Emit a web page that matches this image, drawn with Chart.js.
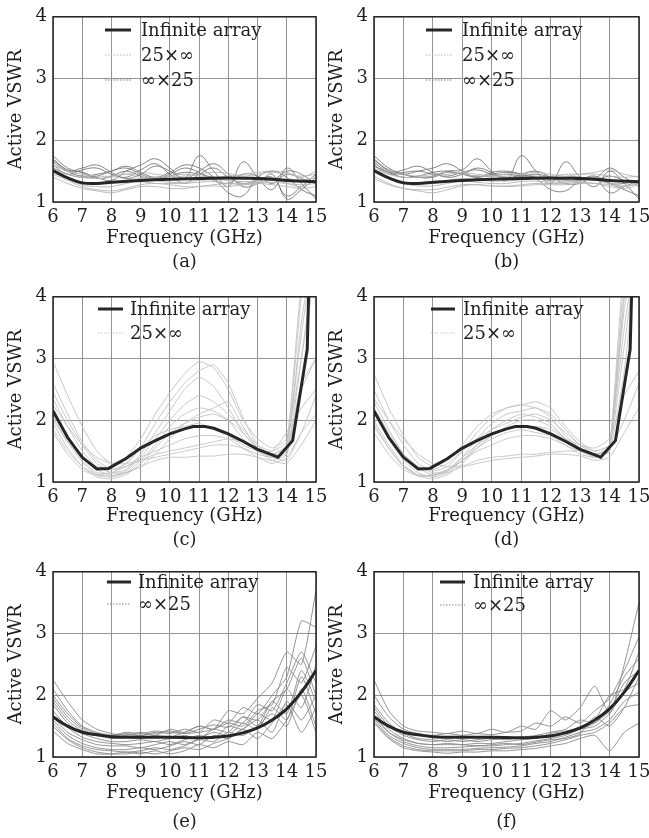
<!DOCTYPE html>
<html>
<head>
<meta charset="utf-8">
<script src="https://cdn.jsdelivr.net/npm/chart.js@4.4.1/dist/chart.umd.min.js"></script>
<style>
  body { margin: 0; background: #fff; width: 649px; height: 838px; position: relative; overflow: hidden; }
  canvas { position: absolute; }
</style>
</head>
<body>
<script>
// frequency samples (GHz) used by the finite-array curves
const freq = [6, 6.5, 7, 7.5, 8, 8.5, 9, 9.5, 10, 10.5, 11, 11.5, 12, 12.5, 13, 13.5, 14, 14.5, 15];
const xTicks = [6, 7, 8, 9, 10, 11, 12, 13, 14, 15];
const yTicks = [1, 2, 3, 4];

// infinite array curves
const infFreqAB = [6, 6.5, 7, 7.5, 8, 9, 10, 11, 12, 13, 13.5, 14, 15];
const infVswrAB = [1.51, 1.39, 1.31, 1.30, 1.32, 1.35, 1.37, 1.38, 1.39, 1.38, 1.37, 1.35, 1.33];
const infFreqCD = [6, 6.5, 7, 7.5, 7.9, 8.5, 9, 9.5, 10, 10.5, 10.8, 11.2, 11.5, 12, 12.5, 13, 13.5, 13.7, 14.2, 14.7, 14.8];
const infVswrCD = [2.15, 1.72, 1.40, 1.21, 1.22, 1.38, 1.55, 1.67, 1.78, 1.86, 1.90, 1.90, 1.87, 1.78, 1.66, 1.53, 1.44, 1.40, 1.67, 3.15, 5.0];
const infFreqEF = [6, 6.5, 7, 7.5, 8, 9, 10, 11, 11.5, 12, 12.5, 13, 13.5, 14, 14.5, 15];
const infVswrEF = [1.65, 1.50, 1.40, 1.36, 1.33, 1.32, 1.32, 1.31, 1.32, 1.34, 1.39, 1.47, 1.60, 1.78, 2.05, 2.40];

// (a) finite arrays
const a25xInf = [
  [1.45,1.35,1.25,1.20,1.18,1.22,1.28,1.30,1.28,1.25,1.25,1.28,1.30,1.28,1.30,1.32,1.30,1.28,1.30],
  [1.40,1.30,1.22,1.18,1.15,1.20,1.25,1.25,1.22,1.22,1.25,1.26,1.25,1.28,1.30,1.28,1.25,1.22,1.25],
  [1.55,1.45,1.40,1.38,1.40,1.45,1.48,1.45,1.42,1.42,1.45,1.48,1.46,1.42,1.45,1.48,1.45,1.42,1.45],
  [1.60,1.50,1.45,1.42,1.42,1.45,1.40,1.38,1.42,1.45,1.42,1.40,1.42,1.45,1.48,1.50,1.48,1.40,1.50],
  [1.50,1.40,1.32,1.30,1.30,1.35,1.38,1.35,1.32,1.32,1.35,1.36,1.35,1.33,1.35,1.40,1.38,1.35,1.40],
  [1.48,1.38,1.28,1.25,1.25,1.30,1.33,1.30,1.30,1.30,1.32,1.33,1.30,1.30,1.32,1.35,1.30,1.25,1.35]
];
const aInfx25 = [
  [1.75,1.55,1.48,1.40,1.35,1.50,1.60,1.70,1.55,1.38,1.75,1.50,1.25,1.65,1.40,1.20,1.55,1.30,1.05],
  [1.70,1.50,1.42,1.45,1.50,1.58,1.48,1.40,1.48,1.60,1.55,1.40,1.15,1.10,1.40,1.50,1.40,1.20,1.10],
  [1.65,1.50,1.55,1.60,1.48,1.38,1.45,1.58,1.50,1.38,1.50,1.62,1.45,1.25,1.30,1.45,1.05,1.20,1.40],
  [1.60,1.45,1.52,1.55,1.45,1.40,1.52,1.62,1.45,1.30,1.45,1.55,1.40,1.30,1.35,1.40,1.10,1.25,1.45],
  [1.55,1.45,1.40,1.42,1.50,1.55,1.45,1.38,1.45,1.55,1.48,1.35,1.30,1.45,1.42,1.30,1.45,1.38,1.30],
  [1.68,1.52,1.48,1.38,1.42,1.50,1.42,1.35,1.42,1.48,1.45,1.40,1.38,1.40,1.38,1.35,1.50,1.45,1.28]
];

// (b) finite arrays
const b25xInf = [
  [1.42,1.30,1.22,1.18,1.15,1.20,1.26,1.28,1.26,1.25,1.26,1.28,1.28,1.28,1.30,1.30,1.28,1.25,1.30],
  [1.38,1.28,1.22,1.20,1.20,1.24,1.28,1.28,1.26,1.26,1.28,1.30,1.30,1.30,1.32,1.30,1.25,1.22,1.28],
  [1.55,1.45,1.40,1.40,1.42,1.45,1.48,1.45,1.42,1.42,1.45,1.48,1.45,1.42,1.45,1.45,1.42,1.40,1.42],
  [1.62,1.50,1.45,1.42,1.45,1.48,1.45,1.42,1.42,1.45,1.45,1.42,1.42,1.45,1.45,1.48,1.52,1.45,1.40],
  [1.50,1.40,1.33,1.30,1.30,1.35,1.38,1.36,1.34,1.34,1.36,1.38,1.36,1.34,1.36,1.40,1.36,1.33,1.35],
  [1.48,1.38,1.30,1.26,1.26,1.30,1.34,1.32,1.30,1.30,1.33,1.34,1.32,1.32,1.34,1.35,1.30,1.26,1.32]
];
const bInfx25 = [
  [1.75,1.55,1.45,1.40,1.40,1.50,1.52,1.70,1.50,1.35,1.75,1.50,1.30,1.65,1.40,1.25,1.50,1.30,1.05],
  [1.70,1.50,1.45,1.50,1.55,1.62,1.50,1.40,1.48,1.50,1.45,1.38,1.20,1.18,1.35,1.42,1.30,1.20,1.10],
  [1.65,1.48,1.52,1.58,1.48,1.40,1.45,1.55,1.48,1.38,1.45,1.50,1.40,1.30,1.30,1.40,1.15,1.25,1.35],
  [1.60,1.45,1.48,1.50,1.45,1.42,1.48,1.52,1.45,1.40,1.42,1.45,1.40,1.35,1.35,1.38,1.30,1.30,1.35],
  [1.58,1.48,1.40,1.42,1.48,1.50,1.45,1.40,1.45,1.48,1.45,1.40,1.35,1.40,1.40,1.35,1.42,1.35,1.30],
  [1.68,1.52,1.45,1.40,1.42,1.48,1.45,1.42,1.42,1.45,1.42,1.40,1.38,1.38,1.40,1.38,1.55,1.40,1.25]
];

// (c) finite arrays
const c25xInf = [
  [2.95,2.40,1.90,1.50,1.30,1.40,1.70,2.10,2.45,2.75,2.95,2.85,2.50,2.00,1.70,1.55,1.70,3.00,4.50],
  [2.60,2.10,1.65,1.35,1.20,1.30,1.55,1.95,2.30,2.60,2.80,2.90,2.60,2.05,1.60,1.45,1.60,3.40,5.00],
  [2.35,1.90,1.50,1.25,1.15,1.20,1.45,1.80,2.15,2.50,2.70,2.55,2.20,1.80,1.55,1.45,1.55,4.00,5.00],
  [2.20,1.75,1.40,1.20,1.10,1.18,1.40,1.70,2.00,2.25,2.40,2.30,2.10,1.85,1.60,1.50,1.65,4.20,5.00],
  [2.05,1.65,1.32,1.12,1.08,1.15,1.35,1.60,1.90,2.10,2.20,2.15,2.00,1.70,1.50,1.40,1.50,3.60,5.00],
  [1.95,1.55,1.25,1.08,1.05,1.12,1.30,1.55,1.80,1.95,2.05,2.10,2.00,1.80,1.55,1.45,1.45,2.50,3.00],
  [2.10,1.70,1.35,1.15,1.15,1.30,1.55,1.75,1.85,1.90,1.95,1.85,1.75,1.60,1.50,1.50,1.80,2.20,2.50],
  [1.85,1.50,1.25,1.12,1.15,1.25,1.40,1.50,1.60,1.70,1.75,1.75,1.70,1.55,1.40,1.30,1.40,1.80,2.10],
  [2.00,1.65,1.40,1.25,1.20,1.25,1.35,1.45,1.50,1.55,1.60,1.65,1.70,1.65,1.50,1.35,1.30,1.60,2.00],
  [1.80,1.45,1.20,1.10,1.10,1.15,1.25,1.35,1.40,1.40,1.42,1.42,1.45,1.45,1.40,1.35,1.45,3.00,4.80],
  [2.25,1.90,1.60,1.40,1.30,1.30,1.35,1.40,1.45,1.50,1.55,1.60,1.60,1.55,1.45,1.40,1.50,2.60,3.00],
  [2.45,2.00,1.60,1.30,1.15,1.15,1.25,1.45,1.70,1.95,2.10,2.20,2.30,1.90,1.55,1.40,1.35,1.80,2.40]
];

// (d) finite arrays
const d25xInf = [
  [2.75,2.20,1.75,1.40,1.25,1.35,1.60,1.90,2.10,2.20,2.25,2.30,2.20,1.90,1.65,1.50,1.60,3.50,5.00],
  [2.50,2.00,1.60,1.30,1.18,1.25,1.50,1.80,2.05,2.20,2.25,2.20,2.10,1.85,1.60,1.45,1.55,4.00,5.00],
  [2.30,1.85,1.45,1.22,1.12,1.18,1.40,1.70,1.95,2.10,2.15,2.20,2.05,1.75,1.55,1.40,1.50,4.30,5.00],
  [2.15,1.70,1.35,1.15,1.08,1.15,1.35,1.60,1.85,2.00,2.10,2.05,1.95,1.70,1.50,1.40,1.50,4.00,5.00],
  [2.00,1.60,1.28,1.10,1.05,1.12,1.30,1.55,1.75,1.90,2.00,2.00,1.90,1.70,1.55,1.45,1.55,3.20,5.00],
  [1.90,1.55,1.25,1.10,1.10,1.20,1.40,1.60,1.75,1.85,1.90,1.90,1.85,1.70,1.60,1.55,1.70,2.40,2.80],
  [1.80,1.45,1.20,1.10,1.12,1.20,1.35,1.50,1.60,1.70,1.75,1.75,1.70,1.60,1.50,1.45,1.55,2.00,2.60],
  [2.10,1.75,1.45,1.25,1.15,1.15,1.25,1.35,1.40,1.42,1.45,1.45,1.48,1.50,1.50,1.45,1.50,2.80,5.00],
  [2.35,2.00,1.70,1.45,1.30,1.25,1.25,1.30,1.35,1.38,1.40,1.42,1.45,1.45,1.42,1.35,1.40,1.80,2.20],
  [1.95,1.55,1.25,1.12,1.10,1.18,1.35,1.55,1.70,1.80,1.85,1.80,1.75,1.60,1.45,1.40,1.60,4.50,5.00],
  [2.20,1.80,1.45,1.25,1.20,1.30,1.50,1.70,1.85,1.95,2.05,2.10,2.00,1.80,1.60,1.50,1.60,3.80,5.00]
];

// (e) finite arrays
const eInfx25 = [
  [2.25,1.90,1.60,1.45,1.38,1.35,1.40,1.35,1.45,1.40,1.50,1.45,1.75,1.70,1.95,2.20,2.70,2.50,3.70],
  [2.10,1.75,1.50,1.40,1.35,1.38,1.35,1.40,1.38,1.45,1.40,1.60,1.55,1.80,1.70,2.00,2.30,3.20,3.10],
  [1.95,1.65,1.45,1.35,1.30,1.32,1.30,1.35,1.32,1.40,1.50,1.45,1.60,1.55,1.85,1.75,2.20,2.70,2.20],
  [1.85,1.55,1.38,1.30,1.25,1.25,1.28,1.25,1.30,1.35,1.30,1.45,1.40,1.65,1.50,1.90,1.70,2.40,1.90],
  [1.75,1.48,1.32,1.25,1.22,1.20,1.22,1.25,1.20,1.28,1.35,1.30,1.50,1.45,1.70,1.60,2.10,1.80,2.50],
  [1.65,1.40,1.28,1.20,1.18,1.18,1.15,1.20,1.25,1.20,1.30,1.40,1.35,1.55,1.45,1.80,1.60,2.30,1.70],
  [1.60,1.35,1.22,1.15,1.12,1.12,1.15,1.12,1.18,1.25,1.20,1.35,1.30,1.45,1.60,1.40,1.90,1.60,2.00],
  [1.55,1.30,1.18,1.12,1.10,1.08,1.10,1.15,1.12,1.18,1.28,1.25,1.40,1.35,1.50,1.70,1.50,2.10,1.50],
  [1.50,1.28,1.15,1.08,1.05,1.05,1.08,1.05,1.10,1.15,1.12,1.22,1.30,1.45,1.30,1.55,1.85,1.40,1.80],
  [1.42,1.22,1.12,1.05,1.05,1.08,1.05,1.10,1.05,1.10,1.20,1.15,1.25,1.20,1.40,1.30,1.60,2.00,1.40],
  [1.90,1.60,1.42,1.38,1.35,1.40,1.38,1.42,1.40,1.38,1.45,1.52,1.48,1.65,1.60,1.90,2.10,2.60,2.00],
  [2.00,1.70,1.48,1.38,1.35,1.36,1.35,1.38,1.42,1.38,1.40,1.45,1.55,1.50,1.75,1.85,2.45,2.20,2.80]
];

// (f) finite arrays
const fInfx25 = [
  [2.25,1.75,1.50,1.42,1.40,1.38,1.42,1.38,1.45,1.40,1.50,1.45,1.75,1.60,1.80,2.15,1.70,2.50,3.50],
  [2.00,1.65,1.45,1.38,1.35,1.38,1.35,1.38,1.36,1.40,1.42,1.55,1.50,1.65,1.55,1.75,1.95,2.40,2.95],
  [1.85,1.55,1.38,1.30,1.28,1.25,1.28,1.25,1.28,1.30,1.32,1.35,1.40,1.45,1.60,1.55,1.85,2.30,2.60],
  [1.75,1.45,1.30,1.22,1.20,1.20,1.20,1.22,1.22,1.25,1.28,1.30,1.35,1.40,1.45,1.55,1.75,2.20,2.40],
  [1.68,1.40,1.25,1.18,1.15,1.15,1.16,1.18,1.18,1.20,1.22,1.26,1.30,1.35,1.45,1.50,1.70,2.05,2.20],
  [1.62,1.35,1.22,1.15,1.12,1.12,1.12,1.14,1.15,1.16,1.18,1.22,1.25,1.32,1.40,1.45,1.60,1.90,2.05],
  [1.58,1.32,1.18,1.12,1.10,1.10,1.10,1.12,1.12,1.14,1.15,1.18,1.22,1.28,1.35,1.40,1.55,1.80,1.85],
  [1.55,1.30,1.15,1.10,1.08,1.06,1.08,1.08,1.10,1.10,1.12,1.14,1.18,1.22,1.30,1.35,1.10,1.40,1.55],
  [1.65,1.40,1.28,1.22,1.20,1.22,1.20,1.18,1.20,1.22,1.20,1.24,1.28,1.30,1.38,1.65,1.50,1.80,2.30],
  [1.80,1.50,1.35,1.28,1.25,1.28,1.25,1.28,1.30,1.28,1.32,1.30,1.38,1.42,1.48,1.60,2.00,2.10,2.70]
];

const LIGHT = '#b4b4b4';
const DARK = '#777777';
const PALE = '#c2c2c2';
const MID = '#888888';

Chart.defaults.font.family = '"DejaVu Serif", serif';
Chart.defaults.font.size = 18;
Chart.defaults.color = '#1e1e1e';

// row placement: canvas top, canvas height, caption padding, title line height
const rows = [
  { top: 0,   h: 280, pb: 6,   lh: 1.333 },
  { top: 280, h: 275, pb: 3,   lh: 1.333 },
  { top: 555, h: 283, pb: 1.5, lh: 1.61 }
];

const panels = [
  { cap: '(a)', row: 0, col: 0, inf: [infFreqAB, infVswrAB], infTension: 0.4, tension: 0.4,
    groups: [{ rows: a25xInf, color: LIGHT, label: '25×∞' }, { rows: aInfx25, color: DARK, label: '∞×25' }],
    legend: { x: 105, y: 30, dy: 25, len: 26, tx: 141 } },
  { cap: '(b)', row: 0, col: 1, inf: [infFreqAB, infVswrAB], infTension: 0.4, tension: 0.4,
    groups: [{ rows: b25xInf, color: LIGHT, label: '25×∞' }, { rows: bInfx25, color: DARK, label: '∞×25' }],
    legend: { x: 105, y: 30, dy: 25, len: 26, tx: 141 } },
  { cap: '(c)', row: 1, col: 0, inf: [infFreqCD, infVswrCD], infTension: 0, tension: 0.15,
    groups: [{ rows: c25xInf, color: PALE, label: '25×∞' }],
    legend: { x: 98, y: 29, dy: 24, len: 25, tx: 130 } },
  { cap: '(d)', row: 1, col: 1, inf: [infFreqCD, infVswrCD], infTension: 0, tension: 0.15,
    groups: [{ rows: d25xInf, color: PALE, label: '25×∞' }],
    legend: { x: 110, y: 29, dy: 24, len: 24, tx: 142 } },
  { cap: '(e)', row: 2, col: 0, inf: [infFreqEF, infVswrEF], infTension: 0.4, tension: 0.2,
    groups: [{ rows: eInfx25, color: MID, label: '∞×25' }],
    legend: { x: 107, y: 27, dy: 22, len: 24, tx: 138 } },
  { cap: '(f)', row: 2, col: 1, inf: [infFreqEF, infVswrEF], infTension: 0.4, tension: 0.2,
    groups: [{ rows: fInfx25, color: MID, label: '∞×25' }],
    legend: { x: 119, y: 27, dy: 23, len: 25, tx: 152 } }
];

function pts(xs, ys) {
  return ys.map((y, i) => ({ x: xs[i], y: y }));
}

// legend drawn inside the plot, with the entries placed like the paper figure
const insetLegend = {
  id: 'insetLegend',
  afterDraw(chart, args, opts) {
    const ctx = chart.ctx;
    ctx.save();
    ctx.font = '18px "DejaVu Serif", serif';
    ctx.textBaseline = 'middle';
    ctx.textAlign = 'left';
    opts.items.forEach((it, i) => {
      const y = opts.y + i * opts.dy;
      ctx.beginPath();
      ctx.strokeStyle = it.color;
      ctx.lineWidth = it.width;
      ctx.setLineDash(it.dash || []);
      ctx.moveTo(opts.x, y);
      ctx.lineTo(opts.x + opts.len, y);
      ctx.stroke();
      ctx.setLineDash([]);
      ctx.fillStyle = '#1e1e1e';
      ctx.fillText(it.text, opts.tx, y + 1);
    });
    ctx.restore();
  }
};

const frame = {
  id: 'frame',
  afterDatasetsDraw(chart) {
    const a = chart.chartArea;
    const ctx = chart.ctx;
    ctx.save();
    ctx.strokeStyle = '#222';
    ctx.lineWidth = 1.5;
    ctx.strokeRect(a.left, a.top, a.right - a.left, a.bottom - a.top);
    ctx.restore();
  }
};

function makeChart(p) {
  const row = rows[p.row];
  const left = p.col === 0 ? 0 : 321;
  const width = p.col === 0 ? 335 : 328;
  const cv = document.createElement('canvas');
  cv.width = width;
  cv.height = row.h;
  cv.style.left = left + 'px';
  cv.style.top = row.top + 'px';
  document.body.appendChild(cv);

  const datasets = [{
    data: pts(p.inf[0], p.inf[1]),
    borderColor: '#262626', borderWidth: 3, tension: p.infTension, pointRadius: 0
  }];
  p.groups.forEach(g => {
    g.rows.forEach(r => {
      datasets.push({ data: pts(freq, r), borderColor: g.color, borderWidth: 0.9, tension: p.tension, pointRadius: 0 });
    });
  });

  const legendItems = [{ text: 'Infinite array', color: '#262626', width: 3 }];
  p.groups.forEach(g => legendItems.push({ text: g.label, color: g.color, width: 1, dash: [1.5, 1.5] }));

  new Chart(cv, {
    type: 'line',
    data: { datasets: datasets },
    options: {
      responsive: false,
      animation: false,
      layout: { padding: { left: 0, top: 12, right: width - (p.col === 0 ? 316 : 318), bottom: 0 } },
      plugins: {
        legend: { display: false },
        tooltip: { enabled: false },
        insetLegend: Object.assign({ items: legendItems }, p.legend)
      },
      scales: {
        x: {
          type: 'linear', min: 6, max: 15,
          afterBuildTicks: s => { s.ticks = xTicks.map(v => ({ value: v })); },
          afterFit: s => { s.height = row.h - 202; s.paddingLeft = 0; s.paddingRight = 0; },
          grid: { color: '#949494', lineWidth: 1, drawTicks: false },
          border: { display: false },
          ticks: { padding: 5, maxRotation: 0, autoSkip: false, font: { size: 18 } },
          title: {
            display: true,
            text: ['Frequency (GHz)', p.cap],
            font: { size: 18, lineHeight: row.lh },
            padding: { top: 0, bottom: row.pb }
          }
        },
        y: {
          min: 1, max: 4,
          afterBuildTicks: s => { s.ticks = yTicks.map(v => ({ value: v })); },
          afterFit: s => { s.width = 53; },
          grid: { color: '#949494', lineWidth: 1, drawTicks: false },
          border: { display: false },
          ticks: { padding: 6, font: { size: 18 } },
          title: {
            display: true,
            text: 'Active VSWR',
            font: { size: 18 },
            padding: { top: 6, bottom: 0 }
          }
        }
      }
    },
    plugins: [insetLegend, frame]
  });
}

panels.forEach(makeChart);
</script>
</body>
</html>
